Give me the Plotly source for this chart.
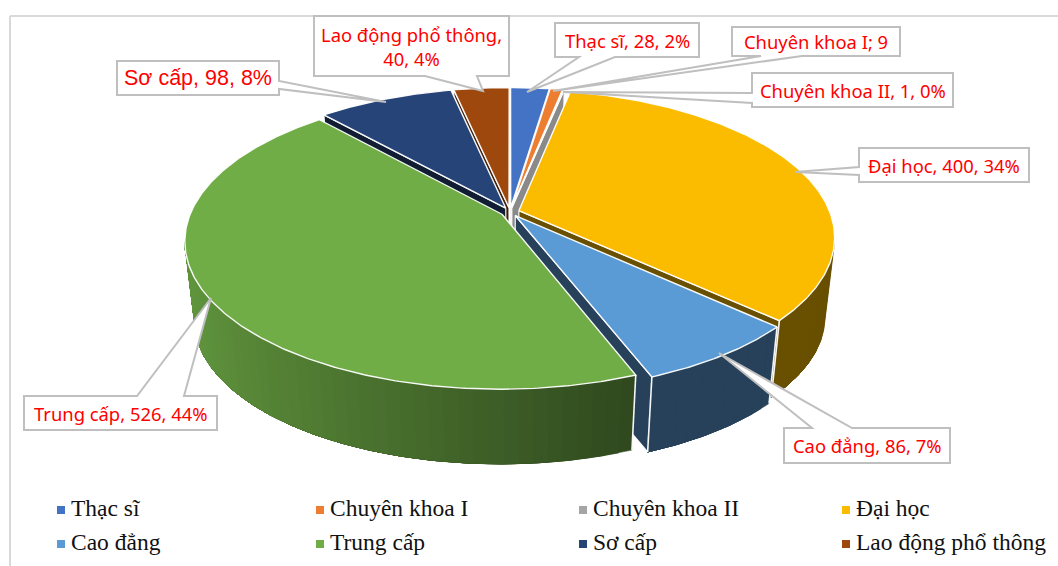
import numpy as np
import plotly.graph_objects as go

categories = ["Thạc sĩ", "Chuyên khoa I", "Chuyên khoa II", "Đại học",
              "Cao đẳng", "Trung cấp", "Sơ cấp", "Lao động phổ thông"]
values = [28, 9, 1, 400, 86, 526, 98, 40]
colors = ["#4472c4", "#ed7d31", "#a5a5a5", "#fbbc00",
          "#5b9bd5", "#70ad47", "#264478", "#9e480e"]
data_labels = ["Thạc sĩ, 28, 2%", "Chuyên khoa I; 9", "Chuyên khoa II, 1, 0%",
               "Đại học, 400, 34%", "Cao đẳng, 86, 7%", "Trung cấp, 526, 44%",
               "Sơ cấp, 98, 8%", "Lao động phổ thông,<br>40, 4%"]

# 3D view of the pie: perspective projection of a tilted, slightly exploded disc
CX, TOP_Y, BOT_Y = 510, 212, 292
RX, RY, PERSP = 311, 143, 0.1776
BOTTOM_SCALE = 0.97
EXPLODE = 0.03
DRAW_ORDER = [0, 1, 2, 7, 6, 3, 4, 5]
WHITE = "rgba(255,255,255,0.95)"
STRIP_STEP = 4


def project(u, v, bottom=False):
    k = BOTTOM_SCALE if bottom else 1.0
    y0 = BOT_Y if bottom else TOP_Y
    d = 1 - PERSP * v
    return CX + k * RX * u / d, y0 + k * RY * v / d


def shade(hex_color, f):
    r, g, b = (int(hex_color[i:i + 2], 16) for i in (1, 3, 5))
    return f"rgb({r * f:.0f},{g * f:.0f},{b * f:.0f})"


def wall_factor(u):
    return float(np.interp(u, [-1, 0.35], [0.87, 0.42]))


fig = go.Figure()


def poly(xs, ys, fill, line=None, width=0):
    fig.add_trace(go.Scatter(
        x=list(xs) + [xs[0]], y=list(ys) + [ys[0]], mode="lines", fill="toself",
        fillcolor=fill, line=dict(color=line or fill, width=width if line else 0.5),
        hoverinfo="skip", showlegend=False))


total = sum(values)
edges = np.cumsum([0] + values) / total * 2 * np.pi

for i in DRAW_ORDER:
    a0, a1 = edges[i], edges[i + 1]
    mid = (a0 + a1) / 2
    ou, ov = EXPLODE * np.sin(mid), -EXPLODE * np.cos(mid)
    ang = np.linspace(a0, a1, max(4, int((a1 - a0) * 100)))
    u = ou + np.sin(ang)
    v = ov - np.cos(ang)
    base = colors[i]
    dark = "#8a8a8a" if i == 2 else shade(base, 0.42)
    # cut faces, only those turned toward the viewer
    for j, visible in ((0, np.sin(a0) < 0), (-1, np.sin(a1) > 0)):
        if not visible:
            continue
        p = [project(ou, ov), project(u[j], v[j]),
             project(u[j], v[j], True), project(ou, ov, True)]
        poly([q[0] for q in p], [q[1] for q in p], dark, WHITE, 1.2)
    # outer wall: each shaded band runs to the end of the arc and the next one
    # paints over it, so the gradient has no seams
    vis = np.where(v > 0.2)[0]
    if len(vis) > 1:
        for s in range(0, len(vis) - 1, STRIP_STEP):
            seg = vis[s:]
            top = [project(u[k], v[k]) for k in seg]
            bot = [project(u[k], v[k], True) for k in seg[::-1]]
            p = top + bot
            poly([q[0] for q in p], [q[1] for q in p], shade(base, wall_factor(u[vis[s]])))
        for j in (vis[0], vis[-1]):
            if 0 < j < len(u) - 1:
                continue
            t, b = project(u[j], v[j]), project(u[j], v[j], True)
            fig.add_trace(go.Scatter(x=[t[0], b[0]], y=[t[1], b[1]], mode="lines",
                                     line=dict(color=WHITE, width=1.6),
                                     hoverinfo="skip", showlegend=False))
    # top face
    tx, ty = project(np.r_[ou, u], np.r_[ov, v])
    poly(tx, ty, base, WHITE, 1.4)

# legend, two rows of four
leg_x = [61, 320, 583, 846]
leg_y = [510, 544]
mx = [leg_x[i % 4] for i in range(8)]
my = [leg_y[i // 4] for i in range(8)]
fig.add_trace(go.Scatter(
    x=mx, y=my, mode="markers",
    marker=dict(symbol="square", size=8, color=colors),
    hoverinfo="skip", showlegend=False))
fig.add_trace(go.Scatter(
    x=[x + 10 for x in mx], y=my,
    mode="text", text=categories, textposition="middle right",
    textfont=dict(family="Liberation Serif", size=23.5, color="#111111"),
    hoverinfo="skip", showlegend=False))

# callout boxes: left, top, right, bottom, pointer base a, pointer base b, tip
callouts = [
    (555, 23, 699, 57, (579, 57), (615, 57), (527, 92)),
    (732, 27, 900, 56, (761, 56), (802, 56), (553, 91)),
    (752, 73, 953, 107, (752, 93), (752, 103), (563, 92)),
    (859, 148, 1029, 182, (859, 167), (859, 175), (795, 172)),
    (784, 428, 950, 463, (812, 428), (852, 428), (719, 353)),
    (24, 396, 217, 430, (137, 396), (184, 396), (211, 298)),
    (117, 61, 279, 95, (279, 81), (279, 89), (386, 102)),
    (314, 16, 509, 76, (425, 76), (477, 76), (483, 91)),
]
shapes = [
    dict(type="line", x0=10, x1=10, y0=16, y1=566, line=dict(color="#d9d9d9", width=2), layer="below"),
    dict(type="line", x0=10, x1=1058, y0=16, y1=16, line=dict(color="#d9d9d9", width=2), layer="below"),
]
annotations = []
for idx, (l, t, r, b, pa, pb, tip) in enumerate(callouts):
    # walk the rectangle clockwise and insert the pointer on the side its base lies on
    if pa[1] == b and pb[1] == b:
        pts = [(l, t), (r, t), (r, b), pb, tip, pa, (l, b)]
    elif pa[0] == l and pb[0] == l:
        pts = [(l, t), (r, t), (r, b), (l, b), pb, tip, pa]
    elif pa[0] == r and pb[0] == r:
        pts = [(l, t), (r, t), pa, tip, pb, (r, b), (l, b)]
    else:
        pts = [(l, t), pa, tip, pb, (r, t), (r, b), (l, b)]
    path = "M " + " L ".join(f"{x},{y}" for x, y in pts) + " Z"
    shapes.append(dict(type="path", path=path, fillcolor="white",
                       line=dict(color="#bfbfbf", width=2), layer="above"))
    is_so_cap = idx == 6
    annotations.append(dict(
        x=(l + r) / 2, y=(t + b) / 2, xref="x", yref="y", showarrow=False,
        text=data_labels[idx], align="center",
        font=dict(family="Liberation Sans" if is_so_cap else "Noto Sans",
                  size=21.5 if is_so_cap else 18.4, color="#ff0000")))

fig.update_layout(
    width=1058, height=566, margin=dict(l=0, r=0, t=0, b=0),
    paper_bgcolor="white", plot_bgcolor="white", showlegend=False,
    xaxis=dict(range=[0, 1058], visible=False),
    yaxis=dict(range=[566, 0], visible=False),
    shapes=shapes, annotations=annotations)

fig.write_html("out.html", post_script="document.body.style.margin='0';",
               config={"displayModeBar": False})
